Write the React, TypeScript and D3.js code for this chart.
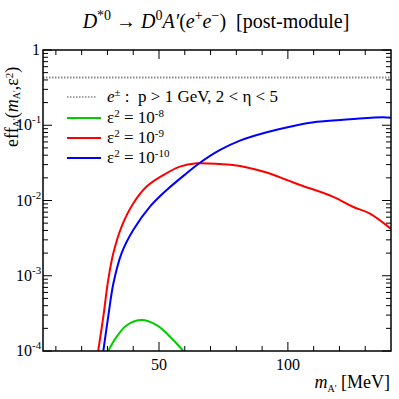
import React from 'react'
import * as d3 from 'd3'

// Data (mass in MeV, efficiency)
const massGreen = [30.3, 33.6, 37.5, 43.3, 49.1, 54.3, 59.4]
const effGreen = [1e-4, 1.55e-4, 2.2e-4, 2.58e-4, 2.2e-4, 1.55e-4, 1e-4]

const massRed = [26.4, 28.4, 30.3, 32.3, 35.5, 40.0, 45.2, 51.7, 58.1, 64.6, 73.7, 81.4, 91.8, 100, 104.7, 117.6, 125.4, 131.8, 140]
const effRed = [1e-4, 2.86e-4, 8.8e-4, 2.0e-3, 4.5e-3, 9.1e-3, 0.0153, 0.0218, 0.0282, 0.0312, 0.0305, 0.0288, 0.0235, 0.0185, 0.0161, 0.0112, 0.0082, 0.0067, 0.0042]

const massBlue = [28.4, 30.3, 32.3, 35.5, 40.0, 46.5, 53.0, 60.7, 65.5, 73.7, 81.4, 91.8, 102.1, 111.2, 124.1, 137, 140]
const effBlue = [1e-4, 2.86e-4, 7.9e-4, 2.0e-3, 4.06e-3, 8.3e-3, 0.0138, 0.023, 0.031, 0.0469, 0.0624, 0.0806, 0.0977, 0.111, 0.12, 0.128, 0.126]

const cutEff = 0.43

const majorX = [50, 100]
const minorX = [10, 20, 30, 40, 60, 70, 80, 90, 110, 120, 130]
const decades = [0, -1, -2, -3, -4]
const decadeLabels = ['1', '10', '10', '10', '10']
const decadeSups = ['', '-1', '-2', '-3', '-4']

const W = 399, H = 399
const margin = { left: 43, right: 8, top: 50, bottom: 48 }
const serif = 'Liberation Serif, DejaVu Serif, serif'

export default function App() {
  const x = d3.scaleLinear().domain([5, 140]).range([margin.left, W - margin.right])
  const y = d3.scaleLog().domain([1e-4, 1]).range([H - margin.bottom, margin.top])
  const [x0, x1] = x.range()
  const [y0, y1] = y.range()

  const line = d3.line<[number, number]>()
    .x(d => x(d[0]))
    .y(d => y(d[1]))
    .curve(d3.curveCatmullRom.alpha(0.5))

  const series = [
    { m: massGreen, e: effGreen, color: '#00cc00' },
    { m: massRed, e: effRed, color: '#ff0000' },
    { m: massBlue, e: effBlue, color: '#0000ff' },
  ]

  const minorY: number[] = []
  for (let k = -4; k < 0; k++) for (let j = 2; j <= 9; j++) minorY.push(j * Math.pow(10, k))

  const legendX = 67
  const legendText = 107

  return (
    <svg width={W} height={H} style={{ position: 'absolute', left: 0, top: 0, fontFamily: serif }}>
      <defs>
        <clipPath id="plot">
          <rect x={x0} y={y1} width={x1 - x0} height={y0 - y1} />
        </clipPath>
      </defs>

      {/* title */}
      <text x={216} y={28} textAnchor="middle" fontSize={20} style={{ whiteSpace: 'pre' }}>
        <tspan fontStyle="italic">D</tspan>
        <tspan fontSize={14} dy={-8}>*0</tspan>
        <tspan dy={8}> → </tspan>
        <tspan fontStyle="italic">D</tspan>
        <tspan fontSize={14} dy={-8}>0</tspan>
        <tspan dy={8} fontStyle="italic">A′</tspan>
        <tspan>(</tspan>
        <tspan fontStyle="italic">e</tspan>
        <tspan fontSize={14} dy={-8}>+</tspan>
        <tspan dy={8} fontStyle="italic">e</tspan>
        <tspan fontSize={14} dy={-8}>−</tspan>
        <tspan dy={8}>)  [post-module]</tspan>
      </text>

      {/* curves */}
      <g clipPath="url(#plot)">
        <line x1={x0} x2={x1} y1={y(cutEff)} y2={y(cutEff)} stroke="#888" strokeWidth={2} strokeDasharray="1.5,1.5" />
        {series.map((s, i) => (
          <path key={i} d={line(s.m.map((m, j) => [m, s.e[j]] as [number, number])) || ''}
            fill="none" stroke={s.color} strokeWidth={2} />
        ))}
      </g>

      {/* frame */}
      <rect x={x0} y={y1} width={x1 - x0} height={y0 - y1} fill="none" stroke="#000" strokeWidth={1.5} />

      {/* x ticks */}
      {majorX.map(v => (
        <g key={'M' + v}>
          <line x1={x(v)} x2={x(v)} y1={y0} y2={y0 - 9} stroke="#000" />
          <line x1={x(v)} x2={x(v)} y1={y1} y2={y1 + 9} stroke="#000" />
          <text x={x(v)} y={y0 + 19} textAnchor="middle" fontSize={16}>{v}</text>
        </g>
      ))}
      {minorX.map(v => (
        <g key={'m' + v}>
          <line x1={x(v)} x2={x(v)} y1={y0} y2={y0 - 5} stroke="#000" />
          <line x1={x(v)} x2={x(v)} y1={y1} y2={y1 + 5} stroke="#000" />
        </g>
      ))}

      {/* y ticks */}
      {decades.map((k, i) => {
        const yy = y(Math.pow(10, k))
        return (
          <g key={'d' + k}>
            <line x1={x0} x2={x0 + 9} y1={yy} y2={yy} stroke="#000" />
            <line x1={x1} x2={x1 - 9} y1={yy} y2={yy} stroke="#000" />
            <text x={decadeSups[i] ? x0 - 11 : x0 - 3} y={yy + 5} textAnchor="end" fontSize={16}>{decadeLabels[i]}</text>
            {decadeSups[i] && <text x={x0 - 11} y={yy - 2} fontSize={11}>{decadeSups[i]}</text>}
          </g>
        )
      })}
      {minorY.map((v, i) => (
        <g key={'my' + i}>
          <line x1={x0} x2={x0 + 5} y1={y(v)} y2={y(v)} stroke="#000" />
          <line x1={x1} x2={x1 - 5} y1={y(v)} y2={y(v)} stroke="#000" />
        </g>
      ))}

      {/* axis titles */}
      <text x={390} y={388} textAnchor="end" fontSize={18}>
        <tspan fontStyle="italic">m</tspan>
        <tspan fontSize={10} dy={4}>A'</tspan>
        <tspan dy={-4}> [MeV]</tspan>
      </text>
      <text transform="translate(18,147) rotate(-90)" fontSize={18}>
        <tspan>eff</tspan>
        <tspan fontSize={10} dy={2}>A'</tspan>
        <tspan dy={-2}>(</tspan>
        <tspan fontStyle="italic">m</tspan>
        <tspan fontSize={10} dy={2}>A'</tspan>
        <tspan dy={-2}>,ε</tspan>
        <tspan fontSize={11} dy={-5}>2</tspan>
        <tspan dy={5}>)</tspan>
      </text>

      {/* legend */}
      <line x1={legendX} x2={legendX + 30} y1={97} y2={97} stroke="#888" strokeWidth={1.5} strokeDasharray="1.5,1.5" />
      <text x={legendText} y={102} fontSize={17} style={{ whiteSpace: 'pre' }}>
        <tspan fontStyle="italic">e</tspan>
        <tspan fontSize={11} dy={-6}>±</tspan>
        <tspan dy={6}> :  p &gt; 1 GeV, 2 &lt; η &lt; 5</tspan>
      </text>
      {series.map((s, i) => {
        const yy = 118 + i * 20
        return (
          <g key={'l' + i}>
            <line x1={legendX} x2={legendX + 34} y1={yy} y2={yy} stroke={s.color} strokeWidth={2} />
            <text x={legendText} y={yy + 5} fontSize={17}>
              <tspan>ε</tspan>
              <tspan fontSize={11} dy={-6}>2</tspan>
              <tspan dy={6}> = 10</tspan>
              <tspan fontSize={11} dy={-6}>{['-8', '-9', '-10'][i]}</tspan>
            </text>
          </g>
        )
      })}
    </svg>
  )
}
